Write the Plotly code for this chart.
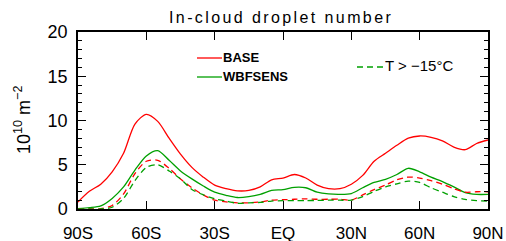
import plotly.graph_objects as go

lat = [-90, -85, -80, -75, -70, -65, -60, -55, -50, -45, -40, -35, -30, -25, -20, -15,
       -10, -5, 0, 5, 10, 15, 20, 25, 30, 35, 40, 45, 50, 55, 60, 65, 70, 75, 80, 85, 90]

base = [0.8, 2.0, 2.8, 4.2, 6.3, 9.6, 10.7, 9.9, 8.0, 6.2, 4.7, 3.6, 2.7, 2.3, 2.05, 2.1,
        2.5, 3.3, 3.5, 3.9, 3.5, 2.7, 2.3, 2.3, 2.8, 3.8, 5.4, 6.3, 7.2, 8.0, 8.25, 8.1,
        7.7, 7.0, 6.7, 7.4, 7.8]

wbfsens = [0.05, 0.15, 0.35, 1.2, 2.5, 4.4, 6.0, 6.6, 5.5, 4.3, 3.4, 2.6, 1.9, 1.55, 1.3, 1.4,
           1.66, 2.1, 2.2, 2.45, 2.4, 1.9, 1.7, 1.65, 1.75, 2.4, 3.0, 3.35, 3.9, 4.6, 4.2, 3.6,
           3.1, 2.5, 1.85, 1.65, 1.65]

base_warm = [0.0, 0.0, 0.05, 0.4, 1.7, 4.0, 5.4, 5.5, 4.6, 3.4, 2.4, 1.6, 1.0, 0.8, 0.7, 0.7,
             0.8, 1.0, 1.05, 1.1, 1.15, 1.1, 1.1, 1.1, 1.0, 1.6, 2.2, 2.7, 3.3, 3.6, 3.5, 3.2,
             2.8, 2.3, 1.9, 1.95, 1.95]

wbfsens_warm = [0.0, 0.0, 0.0, 0.2, 1.2, 3.2, 4.7, 5.0, 4.3, 3.4, 2.2, 1.6, 1.15, 0.9, 0.65, 0.7,
                0.75, 0.9, 0.94, 0.94, 0.95, 0.97, 1.0, 1.0, 1.0, 1.4, 2.0, 2.5, 2.85, 3.15, 3.0, 2.4,
                1.9, 1.4, 1.1, 0.95, 0.9]

xtick_vals = [-90, -60, -30, 0, 30, 60, 90]
xtick_text = ["90S", "60S", "30S", "EQ", "30N", "60N", "90N"]
ytick_vals = [0, 5, 10, 15, 20]
ytick_minor = [i for i in range(21) if i % 5]

RED = "#ff0000"
GREEN = "#00a000"
FONT = "Liberation Sans"

fig = go.Figure()
fig.add_trace(go.Scatter(x=lat, y=base, mode="lines", line=dict(color=RED, width=1.3, shape="spline", smoothing=0.8)))
fig.add_trace(go.Scatter(x=lat, y=wbfsens, mode="lines", line=dict(color=GREEN, width=1.3, shape="spline", smoothing=0.8)))
fig.add_trace(go.Scatter(x=lat, y=base_warm, mode="lines", line=dict(color=RED, width=1.3, dash="6px,4px", shape="spline", smoothing=0.8)))
fig.add_trace(go.Scatter(x=lat, y=wbfsens_warm, mode="lines", line=dict(color=GREEN, width=1.3, dash="6px,4px", shape="spline", smoothing=0.8)))
# invisible trace to activate the mirrored right axis
fig.add_trace(go.Scatter(x=[lat[0]], y=[base[0]], yaxis="y2", mode="lines", showlegend=False,
                         hoverinfo="skip", line=dict(width=0), opacity=0))

W, H = 506, 241
L, R, T, B = 78, 18, 32, 32
pw = W - L - R
ph = H - T - B

def px(x):
    return (x - L) / pw

def py(y):
    return (H - B - y) / ph

# legend keys
fig.add_shape(type="line", xref="paper", yref="paper", x0=px(197), x1=px(222), y0=py(58), y1=py(58),
              line=dict(color=RED, width=1.3))
fig.add_shape(type="line", xref="paper", yref="paper", x0=px(197), x1=px(222), y0=py(77), y1=py(77),
              line=dict(color=GREEN, width=1.3))
fig.add_shape(type="line", xref="paper", yref="paper", x0=px(357), x1=px(383), y0=py(67), y1=py(67),
              line=dict(color=GREEN, width=1.3, dash="6px,4px"))

annotations = [
    dict(text="<b>BASE</b>", x=px(221), y=py(57), xanchor="left", yanchor="middle",
         font=dict(family=FONT, size=13, color="black"), showarrow=False, xref="paper", yref="paper"),
    dict(text="<b>WBFSENS</b>", x=px(221), y=py(76), xanchor="left", yanchor="middle",
         font=dict(family=FONT, size=13, color="black"), showarrow=False, xref="paper", yref="paper"),
    dict(text="T > −15°C", x=px(383), y=py(65), xanchor="left", yanchor="middle",
         font=dict(family=FONT, size=15, color="black"), showarrow=False, xref="paper", yref="paper"),
    dict(text="<span style='letter-spacing:2.4px'>In-cloud droplet number</span>", x=px(281), y=py(17),
         xanchor="center", yanchor="middle",
         font=dict(family=FONT, size=16, color="black"), showarrow=False, xref="paper", yref="paper"),
    dict(text="10<sup>10</sup> m<sup>−2</sup>", x=px(22), y=py(120), xanchor="center", yanchor="middle",
         textangle=-90, font=dict(family=FONT, size=18, color="black"), showarrow=False,
         xref="paper", yref="paper"),
]

fig.update_layout(
    width=W, height=H,
    margin=dict(l=L, r=R, t=T, b=B, pad=0, autoexpand=False),
    paper_bgcolor="white", plot_bgcolor="white",
    showlegend=False,
    annotations=annotations,
    font=dict(family=FONT, size=16, color="black"),
    xaxis=dict(range=[-90, 90], tickvals=xtick_vals, ticktext=xtick_text,
               ticks="inside", ticklen=8, tickwidth=1.2, tickcolor="black",
               showline=True, linecolor="black", linewidth=1.5, mirror="ticks",
               showgrid=False, zeroline=False, tickfont=dict(size=17),
               ticklabelstandoff=8, automargin=False),
    yaxis=dict(range=[0, 20], tickvals=ytick_vals,
               ticks="inside", ticklen=8, tickwidth=1.2, tickcolor="black",
               minor=dict(tickvals=ytick_minor, ticks="inside", ticklen=4,
                          tickwidth=1, tickcolor="black"),
               showline=True, linecolor="black", linewidth=1.5, mirror=True,
               showgrid=False, zeroline=False, tickfont=dict(size=18),
               ticklabelstandoff=5, automargin=False),
    yaxis2=dict(overlaying="y", side="right", range=[0, 20], tickvals=ytick_vals,
                showticklabels=False, ticks="inside", ticklen=8, tickwidth=1.2, tickcolor="black",
                minor=dict(tickvals=ytick_minor, ticks="inside", ticklen=4, tickwidth=1, tickcolor="black"),
                showline=False, showgrid=False, zeroline=False, automargin=False),
)

fig.write_html("out.html", config={"displayModeBar": False},
               post_script="document.body.style.margin='0';")
